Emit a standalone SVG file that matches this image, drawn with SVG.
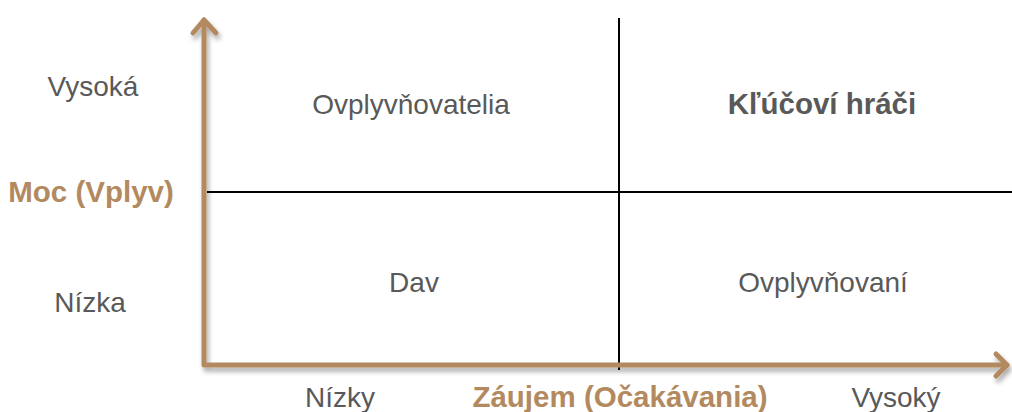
<svg xmlns="http://www.w3.org/2000/svg" width="1012" height="412" viewBox="0 0 1012 412">
<defs>
<style>
.t{font-family:"Liberation Sans",Arial,sans-serif;font-size:28px;fill:#595959;text-anchor:middle}
.b{font-weight:bold;font-size:29.5px}
.tan{fill:#b38a60;font-weight:bold;font-size:29.5px}
.ax{stroke:#b38a60;stroke-width:5;fill:none;stroke-linecap:round;stroke-linejoin:round}
.dv{stroke:#000;stroke-width:2;fill:none}
</style>
<filter id="sh" x="-10%" y="-10%" width="120%" height="130%">
<feGaussianBlur in="SourceAlpha" stdDeviation="2.5"/>
<feOffset dx="2" dy="4" result="o"/>
<feComponentTransfer><feFuncA type="linear" slope="0.35"/></feComponentTransfer>
<feMerge><feMergeNode/><feMergeNode in="SourceGraphic"/></feMerge>
</filter>
</defs>
<g id="connectors">
<line class="dv" x1="619" y1="18" x2="619" y2="370"/>
<line class="dv" x1="207" y1="192" x2="1012" y2="192"/>
<g filter="url(#sh)">
<path class="ax" d="M204 20 L204 365 L1007 365"/>
<path class="ax" d="M193 33 L204 20 L216 33"/>
<path class="ax" d="M996 354 L1007 365 L996 376"/>
</g>
</g>
<g id="axis-y">
<text class="t" x="93" y="96">Vysoká</text>
<text class="t tan" x="91" y="202">Moc (Vplyv)</text>
<text class="t" x="90" y="312">Nízka</text>
</g>
<g id="axis-x">
<text class="t" x="340" y="407">Nízky</text>
<text class="t tan" x="620" y="407">Záujem (Očakávania)</text>
<text class="t" x="896" y="407">Vysoký</text>
</g>
<g id="q-ovplyvnovatelia"><text class="t" x="411" y="114">Ovplyvňovatelia</text></g>
<g id="q-klucovi"><text class="t b" x="822" y="114">Kľúčoví hráči</text></g>
<g id="q-dav"><text class="t" x="414" y="292">Dav</text></g>
<g id="q-ovplyvnovani"><text class="t" x="823" y="292">Ovplyvňovaní</text></g>
</svg>
